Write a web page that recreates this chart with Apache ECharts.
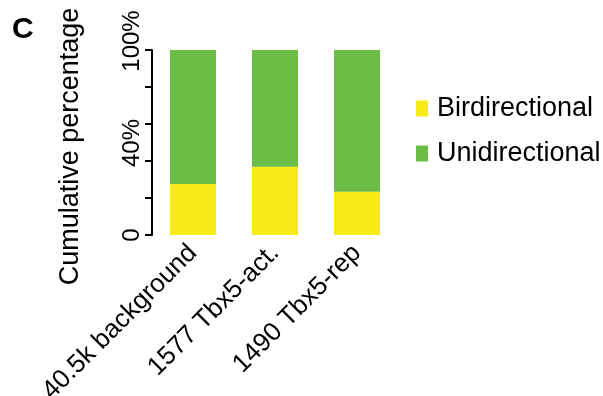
<!DOCTYPE html>
<html>
<head>
<meta charset="utf-8">
<script src="https://cdn.jsdelivr.net/npm/echarts@6/dist/echarts.min.js"></script>
<style>html,body{margin:0;padding:0;background:#fff}#c{width:603px;height:396px}</style>
</head>
<body>
<div id="c"></div>
<script>
var categories = ['40.5k background', '1577 Tbx5-act.', '1490 Tbx5-rep'];
var bidirectional = [27.6, 36.9, 23.4];
var unidirectional = [72.4, 63.1, 76.6];
var seriesNames = ['Birdirectional', 'Unidirectional'];
var yTickValues = [0, 40, 100];
var yTickLabels = ['0', '40%', '100%'];

var FONT = 'Liberation Sans, Arial, sans-serif';
var chart = echarts.init(document.getElementById('c'), null, {renderer: 'canvas'});
chart.setOption({
  animation: false,
  backgroundColor: '#fff',
  title: {text: 'C', left: 7, top: 10, textStyle: {fontFamily: FONT, fontWeight: 'bold', fontSize: 30, color: '#000'}},
  legend: {
    orient: 'vertical', left: 411, top: 90, itemWidth: 12, itemHeight: 16, itemGap: 18,
    icon: 'rect',
    textStyle: {fontFamily: FONT, fontSize: 27, color: '#000', padding: [0, 0, 0, 4]},
    data: seriesNames
  },
  grid: {left: 152, right: 205, top: 50, bottom: 161, containLabel: false, outerBoundsMode: 'none'},
  xAxis: {
    type: 'category', data: categories,
    axisLine: {show: false}, axisTick: {show: false},
    axisLabel: {rotate: 45, fontFamily: FONT, fontSize: 26, color: '#000', margin: 14, interval: 0}
  },
  yAxis: {
    type: 'value', min: 0, max: 100, interval: 20,
    name: 'Cumulative percentage', nameLocation: 'middle', nameRotate: 90, nameGap: 68,
    nameTextStyle: {fontFamily: FONT, fontSize: 27, color: '#000', padding: [0, 8, 0, 0]},
    splitLine: {show: false},
    axisLine: {show: true, lineStyle: {color: '#000', width: 2}},
    axisTick: {show: true, length: 7, lineStyle: {color: '#000', width: 2}},
    axisLabel: {
      rotate: 90, margin: 8, fontFamily: FONT, fontSize: 24, color: '#000',
      formatter: function (v) {
        var i = yTickValues.indexOf(v);
        if (i < 0) return '';
        if (i === 0) return yTickLabels[i];
        return '{' + (i === 1 ? 'a' : 'b') + '|' + yTickLabels[i] + '}';
      },
      rich: {
        a: {fontFamily: FONT, fontSize: 24, color: '#000', padding: [0, 0, 0, 36]},
        b: {fontFamily: FONT, fontSize: 24, color: '#000', padding: [0, 0, 0, 18]}
      }
    }
  },
  series: [
    {name: seriesNames[0], type: 'bar', stack: 's', data: bidirectional, barWidth: 46, itemStyle: {color: '#F6EA17'}},
    {name: seriesNames[1], type: 'bar', stack: 's', data: unidirectional, barWidth: 46, itemStyle: {color: '#6CBD46'}}
  ]
});
</script>
</body>
</html>
